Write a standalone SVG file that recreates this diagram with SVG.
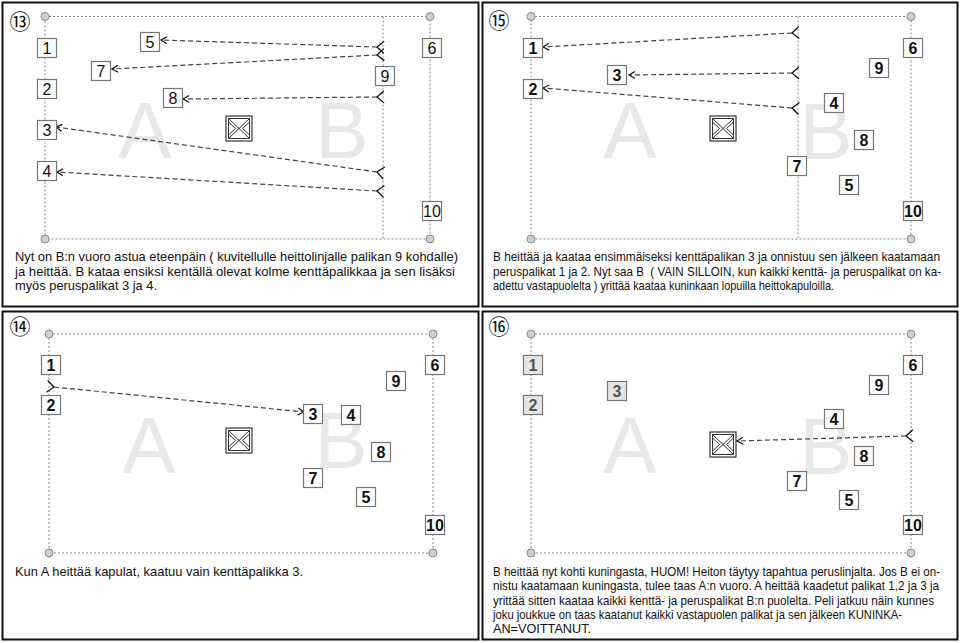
<svg xmlns="http://www.w3.org/2000/svg" width="960" height="643" viewBox="0 0 960 643">
<style>
.frame{fill:none;stroke:#111;stroke-width:2}
.field{fill:none;stroke:#888;stroke-width:1;stroke-dasharray:2 2}
.post{fill:#cfcfcf;stroke:#888;stroke-width:1}
.box rect{fill:#fff;stroke:#777;stroke-width:1.2}
.box text{font-family:'Liberation Sans',Arial,sans-serif;font-size:16px;text-anchor:middle;fill:#111}
.bold text{font-weight:bold}
.down rect{fill:#e6e6e6}
.down text{fill:#555}
.side{font-family:'Liberation Sans',Arial,sans-serif;font-size:80px;fill:#e8e8e8;text-anchor:middle}
.throw{fill:none;stroke:#444;stroke-width:1.2;stroke-dasharray:5 3;marker-start:url(#tail);marker-end:url(#head)}
.cap{font-family:'Liberation Sans',Arial,sans-serif;font-size:13.3px;fill:#111}
.num{font-family:'Liberation Serif','Noto Sans CJK JP',serif;font-size:21px;fill:#111;text-anchor:middle}
</style>
<defs>
<marker id="head" markerUnits="userSpaceOnUse" markerWidth="12" markerHeight="12" refX="0" refY="0" orient="auto" overflow="visible">
<path d="M-6,-3.5 L0,0 L-6,3.5" fill="none" stroke="#111" stroke-width="1.2"/>
</marker>
<marker id="tail" markerUnits="userSpaceOnUse" markerWidth="14" markerHeight="14" refX="0" refY="0" orient="auto" overflow="visible">
<path d="M-7,-6 L0,0 L-7,6" fill="none" stroke="#111" stroke-width="1.3"/>
</marker>
<g id="kingshape">
<rect x="0" y="0" width="26" height="25" fill="#fff" stroke="#333" stroke-width="1.2"/>
<path d="M2.5,2.5 H23.5 V22.5 H2.5 Z M2.5,2.5 L23.5,22.5 M23.5,2.5 L2.5,22.5 M2.5,6 L9.5,12.5 L2.5,19 M23.5,6 L16.5,12.5 L23.5,19" fill="none" stroke="#333" stroke-width="1"/>
</g>
</defs>
<rect width="960" height="643" fill="#fff"/>

<!-- Panel 13 -->
<g id="panel13">
<rect class="frame" x="2.5" y="2.5" width="476" height="304"/>
<text class="num" x="20" y="28.5">⑬</text>
<g id="p13-field">
<path class="field" d="M45,16.5 H430 V239 H45 Z M383,16.5 V239"/>
<circle class="post" cx="45" cy="16.5" r="4"/><circle class="post" cx="430" cy="16.5" r="4"/>
<circle class="post" cx="45" cy="239" r="4"/><circle class="post" cx="430" cy="239" r="4"/>
</g>
<text class="side" x="145" y="158">A</text>
<text class="side" x="342" y="158">B</text>
<g id="p13-connectors">
<path class="throw" d="M377,47 L161,40"/>
<path class="throw" d="M377,55 L112,69"/>
<path class="throw" d="M377,97 L183,99"/>
<path class="throw" d="M377,172 L56,127"/>
<path class="throw" d="M377,191 L57,172"/>
</g>
<g id="p13-b1" class="box"><rect x="37.5" y="38.5" width="19" height="19"/><text x="47" y="53.7">1</text></g>
<g id="p13-b2" class="box"><rect x="37.5" y="79.5" width="19" height="19"/><text x="47" y="94.7">2</text></g>
<g id="p13-b3" class="box"><rect x="37.5" y="120.5" width="19" height="19"/><text x="47" y="135.7">3</text></g>
<g id="p13-b4" class="box"><rect x="37.5" y="161.5" width="19" height="19"/><text x="47" y="176.7">4</text></g>
<g id="p13-b5" class="box"><rect x="140.5" y="32.5" width="19" height="19"/><text x="150" y="47.7">5</text></g>
<g id="p13-b7" class="box"><rect x="91.5" y="61.5" width="19" height="19"/><text x="101" y="76.7">7</text></g>
<g id="p13-b8" class="box"><rect x="163.5" y="88.5" width="19" height="19"/><text x="173" y="103.7">8</text></g>
<g id="p13-b9" class="box"><rect x="375.5" y="66.5" width="19" height="19"/><text x="385" y="81.7">9</text></g>
<g id="p13-b6" class="box"><rect x="422.5" y="38.5" width="19" height="19"/><text x="432" y="53.7">6</text></g>
<g id="p13-b10" class="box"><rect x="422.5" y="201.5" width="19" height="19"/><text x="432" y="216.7">10</text></g>
<g id="p13-king"><use href="#kingshape" x="226" y="116"/></g>
<text class="cap" x="15" y="261" textLength="443" lengthAdjust="spacingAndGlyphs">Nyt on B:n vuoro astua eteenpäin ( kuvitellulle heittolinjalle palikan 9 kohdalle)</text>
<text class="cap" x="15" y="275.5" textLength="440" lengthAdjust="spacingAndGlyphs">ja heittää. B kataa ensiksi kentällä olevat kolme kenttäpalikkaa ja sen lisäksi</text>
<text class="cap" x="15" y="290" textLength="142" lengthAdjust="spacingAndGlyphs">myös peruspalikat 3 ja 4.</text>
</g>

<!-- Panel 15 -->
<g id="panel15">
<rect class="frame" x="482.5" y="2.5" width="475" height="304"/>
<text class="num" x="499" y="28">⑮</text>
<g id="p15-field">
<path class="field" d="M531,16.5 H911 V239 H531 Z M798,16.5 V239"/>
<circle class="post" cx="531" cy="16.5" r="4"/><circle class="post" cx="911" cy="16.5" r="4"/>
<circle class="post" cx="531" cy="239" r="4"/><circle class="post" cx="911" cy="239" r="4"/>
</g>
<text class="side" x="630" y="158">A</text>
<text class="side" x="826" y="159">B</text>
<g id="p15-connectors">
<path class="throw" d="M792,33 L543,47"/>
<path class="throw" d="M792,73 L629,75"/>
<path class="throw" d="M792,108 L543,88"/>
</g>
<g id="p15-b1" class="box bold"><rect x="523.5" y="38.5" width="19" height="19"/><text x="533" y="53.7">1</text></g>
<g id="p15-b2" class="box bold"><rect x="523.5" y="79.5" width="19" height="19"/><text x="533" y="94.7">2</text></g>
<g id="p15-b3" class="box bold"><rect x="607.5" y="65.5" width="19" height="19"/><text x="617" y="80.7">3</text></g>
<g id="p15-b6" class="box bold"><rect x="903.5" y="38.5" width="19" height="19"/><text x="913" y="53.7">6</text></g>
<g id="p15-b9" class="box bold"><rect x="869.5" y="58.5" width="19" height="19"/><text x="879" y="73.7">9</text></g>
<g id="p15-b4" class="box bold"><rect x="824.5" y="93.5" width="19" height="19"/><text x="834" y="108.7">4</text></g>
<g id="p15-b8" class="box bold"><rect x="854.5" y="130.5" width="19" height="19"/><text x="864" y="145.7">8</text></g>
<g id="p15-b7" class="box bold"><rect x="787.5" y="156.5" width="19" height="19"/><text x="797" y="171.7">7</text></g>
<g id="p15-b5" class="box bold"><rect x="839.5" y="175.5" width="19" height="19"/><text x="849" y="190.7">5</text></g>
<g id="p15-b10" class="box bold"><rect x="903.5" y="201.5" width="19" height="19"/><text x="913" y="216.7">10</text></g>
<g id="p15-king"><use href="#kingshape" x="710" y="116"/></g>
<text class="cap" x="493" y="261" textLength="447" lengthAdjust="spacingAndGlyphs">B heittää ja kaataa ensimmäiseksi kenttäpalikan 3 ja onnistuu sen jälkeen kaatamaan</text>
<text class="cap" x="493" y="275.5" textLength="448" lengthAdjust="spacingAndGlyphs" xml:space="preserve">peruspalikat 1 ja 2. Nyt saa B  ( VAIN SILLOIN, kun kaikki kenttä- ja peruspalikat on ka-</text>
<text class="cap" x="493" y="290" textLength="341" lengthAdjust="spacingAndGlyphs">adettu vastapuolelta ) yrittää kaataa kuninkaan lopuilla heittokapuloilla.</text>
</g>

<!-- Panel 14 -->
<g id="panel14">
<rect class="frame" x="2.5" y="311.5" width="476" height="328"/>
<text class="num" x="20" y="334">⑭</text>
<g id="p14-field">
<path class="field" d="M49,334 H433 V553 H49 Z"/>
<circle class="post" cx="49" cy="334" r="4"/><circle class="post" cx="433" cy="334" r="4"/>
<circle class="post" cx="49" cy="553" r="4"/><circle class="post" cx="433" cy="553" r="4"/>
</g>
<text class="side" x="149" y="473">A</text>
<text class="side" x="341" y="468">B</text>
<g id="p14-connectors">
<path class="throw" d="M54,387 L304,412"/>
</g>
<g id="p14-b1" class="box bold"><rect x="41.5" y="355.5" width="19" height="19"/><text x="51" y="370.7">1</text></g>
<g id="p14-b2" class="box bold"><rect x="41.5" y="395.5" width="19" height="19"/><text x="51" y="410.7">2</text></g>
<g id="p14-b3" class="box bold"><rect x="303.5" y="404.5" width="19" height="19"/><text x="313" y="419.7">3</text></g>
<g id="p14-b4" class="box bold"><rect x="341.5" y="405.5" width="19" height="19"/><text x="351" y="420.7">4</text></g>
<g id="p14-b9" class="box bold"><rect x="386.5" y="371.5" width="19" height="19"/><text x="396" y="386.7">9</text></g>
<g id="p14-b6" class="box bold"><rect x="425.5" y="355.5" width="19" height="19"/><text x="435" y="370.7">6</text></g>
<g id="p14-b8" class="box bold"><rect x="371.5" y="442.5" width="19" height="19"/><text x="381" y="457.7">8</text></g>
<g id="p14-b7" class="box bold"><rect x="303.5" y="468.5" width="19" height="19"/><text x="313" y="483.7">7</text></g>
<g id="p14-b5" class="box bold"><rect x="356.5" y="487.5" width="19" height="19"/><text x="366" y="502.7">5</text></g>
<g id="p14-b10" class="box bold"><rect x="425.5" y="515.5" width="19" height="19"/><text x="435" y="530.7">10</text></g>
<g id="p14-king"><use href="#kingshape" x="226" y="428"/></g>
<text class="cap" x="15" y="576" textLength="288" lengthAdjust="spacingAndGlyphs">Kun A heittää kapulat, kaatuu vain kenttäpalikka 3.</text>
</g>

<!-- Panel 16 -->
<g id="panel16">
<rect class="frame" x="482.5" y="311.5" width="475" height="328"/>
<text class="num" x="499" y="334">⑯</text>
<g id="p16-field">
<path class="field" d="M531,334 H911 V553 H531 Z"/>
<circle class="post" cx="531" cy="334" r="4"/><circle class="post" cx="911" cy="334" r="4"/>
<circle class="post" cx="531" cy="553" r="4"/><circle class="post" cx="911" cy="553" r="4"/>
</g>
<text class="side" x="630" y="473">A</text>
<text class="side" x="826" y="474">B</text>
<g id="p16-connectors">
<path class="throw" d="M906,436 L737,441"/>
</g>
<g id="p16-b1" class="box bold down"><rect x="523.5" y="355.5" width="19" height="19"/><text x="533" y="370.7">1</text></g>
<g id="p16-b2" class="box bold down"><rect x="523.5" y="395.5" width="19" height="19"/><text x="533" y="410.7">2</text></g>
<g id="p16-b3" class="box bold down"><rect x="607.5" y="381.5" width="19" height="19"/><text x="617" y="396.7">3</text></g>
<g id="p16-b6" class="box bold"><rect x="903.5" y="355.5" width="19" height="19"/><text x="913" y="370.7">6</text></g>
<g id="p16-b9" class="box bold"><rect x="869.5" y="375.5" width="19" height="19"/><text x="879" y="390.7">9</text></g>
<g id="p16-b4" class="box bold"><rect x="824.5" y="409.5" width="19" height="19"/><text x="834" y="424.7">4</text></g>
<g id="p16-b8" class="box bold"><rect x="854.5" y="446.5" width="19" height="19"/><text x="864" y="461.7">8</text></g>
<g id="p16-b7" class="box bold"><rect x="787.5" y="471.5" width="19" height="19"/><text x="797" y="486.7">7</text></g>
<g id="p16-b5" class="box bold"><rect x="839.5" y="490.5" width="19" height="19"/><text x="849" y="505.7">5</text></g>
<g id="p16-b10" class="box bold"><rect x="903.5" y="515.5" width="19" height="19"/><text x="913" y="530.7">10</text></g>
<g id="p16-king"><use href="#kingshape" x="710" y="432"/></g>
<text class="cap" x="493" y="576" textLength="447" lengthAdjust="spacingAndGlyphs">B heittää nyt kohti kuningasta, HUOM! Heiton täytyy tapahtua peruslinjalta. Jos B ei on-</text>
<text class="cap" x="493" y="590" textLength="446" lengthAdjust="spacingAndGlyphs">nistu kaatamaan kuningasta, tulee taas A:n vuoro. A heittää kaadetut palikat 1,2 ja 3 ja</text>
<text class="cap" x="493" y="604.5" textLength="441" lengthAdjust="spacingAndGlyphs">yrittää sitten kaataa kaikki kenttä- ja peruspalikat B:n puolelta. Peli jatkuu näin kunnes</text>
<text class="cap" x="493" y="618.5" textLength="409" lengthAdjust="spacingAndGlyphs">joku joukkue on taas kaatanut kaikki vastapuolen palikat ja sen jälkeen KUNINKA-</text>
<text class="cap" x="493" y="632.5" textLength="98" lengthAdjust="spacingAndGlyphs">AN=VOITTANUT.</text>
</g>
</svg>
